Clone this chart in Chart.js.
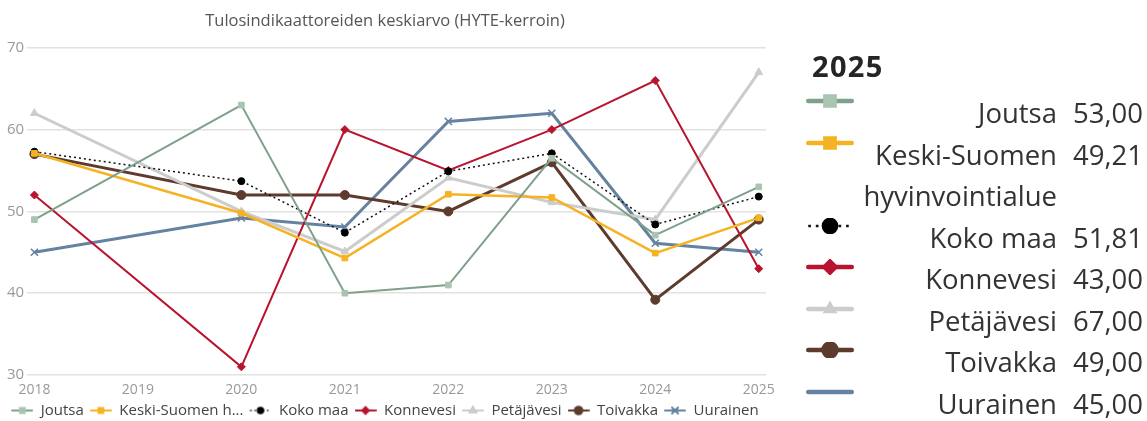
<!DOCTYPE html>
<html>
<head>
<meta charset="utf-8">
<script src="https://cdn.jsdelivr.net/npm/chart.js@4"></script>
<style>
  body { margin: 0; background: #fff; font-family: "Open Sans", sans-serif; overflow: hidden; }
  #wrap { position: absolute; left: 0; top: 0; width: 780px; height: 428px; }
  #side { position: absolute; left: 806px; top: 43px; width: 340px; color: #333; font-family: "Open Sans", sans-serif; }
  #side .hdr { font-weight: bold; font-size: 29px; letter-spacing: 1.3px; line-height: 49px; margin-left: 6px; color: #252525; position: relative; top: -2px; }
  #side .row { display: grid; grid-template-columns: 56px 195px 86px; font-size: 27.5px; line-height: 41.5px; }
  #side .lab { text-align: right; }
  #side .val { text-align: right; }
  #side canvas { display: block; margin-top: 1px; }
</style>
</head>
<body>
<div id="wrap"><canvas id="myChart"></canvas></div>
<div id="side"></div>
<script>
const years = [2018, 2019, 2020, 2021, 2022, 2023, 2024, 2025];
const names = ['Joutsa', 'Keski-Suomen hyvinvointialue', 'Koko maa', 'Konnevesi', 'Petäjävesi', 'Toivakka', 'Uurainen'];
const shortNames = ['Joutsa', 'Keski-Suomen h...', 'Koko maa', 'Konnevesi', 'Petäjävesi', 'Toivakka', 'Uurainen'];

// 2019 puuttuu kaikilta
const joutsa     = [49,   null, 63,   40,   41,   56.5, 47.1, 53];
const keskiSuomi = [57.1, null, 49.8, 44.3, 52.1, 51.7, 44.9, 49.21];
const kokoMaa    = [57.3, null, 53.7, 47.4, 54.9, 57.1, 48.4, 51.81];
const konnevesi  = [52,   null, 31,   60,   55,   60,   66,   43];
const petajavesi = [62,   null, 50,   45.1, 54.1, 51.1, 49,   67];
const toivakka   = [57,   null, 52,   52,   50,   56,   39.2, 49];
const uurainen   = [45,   null, 49.2, 48.1, 61,   62,   46.1, 45];

const yTicks = [30, 40, 50, 60, 70];

const series = [joutsa, keskiSuomi, kokoMaa, konnevesi, petajavesi, toivakka, uurainen];
const styles = [
  { line: '#7fa08a', fill: '#a9c4b1', width: 2,   dash: [],     point: 'rect',     r: 4 },
  { line: '#f5b324', fill: '#f5b324', width: 2.5, dash: [],     point: 'rect',     r: 4 },
  { line: '#111111', fill: '#000000', width: 1.5, dash: [2, 3], point: 'circle',   r: 3.5 },
  { line: '#b8142f', fill: '#b8142f', width: 2,   dash: [],     point: 'rectRot',  r: 4 },
  { line: '#cccccc', fill: '#cccccc', width: 3,   dash: [],     point: 'triangle', r: 4.5 },
  { line: '#5d3b2d', fill: '#5d3b2d', width: 3,   dash: [],     point: 'circle',   r: 4.5 },
  { line: '#6582a0', fill: '#6582a0', width: 3,   dash: [],     point: 'crossRot', r: 5 }
];
// oikean selitteen merkkien koot
const sideMarker = [6.5, 6.5, 7, 5.5, 4, 6.5, 0];

Chart.defaults.font.family = '"Open Sans", sans-serif';

// pieni näyte: viiva + merkki
function sample(st, w, h, lw, r, marker) {
  const c = document.createElement('canvas');
  c.width = w; c.height = h;
  const ctx = c.getContext('2d');
  ctx.strokeStyle = st.line;
  const dotted = st.dash.length > 0;
  ctx.lineWidth = dotted ? Math.max(1.5, lw * 0.6) : lw;
  ctx.lineCap = dotted ? 'butt' : 'round';
  ctx.setLineDash(dotted ? [ctx.lineWidth, ctx.lineWidth * 1.8] : []);
  ctx.beginPath();
  ctx.moveTo(lw / 2, h / 2);
  ctx.lineTo(w - lw / 2, h / 2);
  ctx.stroke();
  ctx.setLineDash([]);
  if (marker && r > 0) {
    ctx.fillStyle = st.fill;
    ctx.strokeStyle = st.point === 'crossRot' ? st.line : st.fill;
    Chart.helpers.drawPoint(ctx, { pointStyle: st.point, radius: r, rotation: 0, borderWidth: 1 }, w / 2, h / 2);
  }
  return c;
}

const datasets = series.map((vals, i) => {
  const st = styles[i];
  return {
    label: names[i],
    data: years.map((yr, j) => ({ x: yr, y: vals[j] })),
    borderColor: st.line,
    backgroundColor: st.fill,
    borderWidth: st.width,
    borderDash: st.dash,
    pointStyle: st.point,
    pointRadius: st.r,
    pointBackgroundColor: st.fill,
    pointBorderColor: st.point === 'crossRot' ? st.line : st.fill,
    pointBorderWidth: st.point === 'crossRot' ? 1.5 : 1,
    spanGaps: true,
    tension: 0
  };
});

let myChart = document.getElementById('myChart').getContext('2d');

let lineChart = new Chart(myChart, {
  type: 'line',
  data: { datasets: datasets },
  options: {
    responsive: true,
    maintainAspectRatio: false,
    animation: false,
    layout: { padding: { left: 4, right: 14, bottom: 0, top: 8 } },
    scales: {
      x: {
        type: 'linear',
        min: 2017.93,
        max: 2025.07,
        afterBuildTicks: ax => { ax.ticks = years.map(v => ({ value: v })); },
        grid: { display: false },
        border: { display: false },
        ticks: { color: '#999', font: { size: 14, lineHeight: 1 }, padding: 0, maxRotation: 0, callback: v => String(v) }
      },
      y: {
        min: 30,
        max: 70,
        afterBuildTicks: ax => { ax.ticks = yTicks.map(v => ({ value: v })); },
        grid: { color: '#e2e2e2', lineWidth: 1.5, drawTicks: false },
        border: { display: false },
        ticks: { color: '#999', font: { size: 15 }, padding: 3 }
      }
    },
    plugins: {
      title: {
        display: true,
        text: 'Tulosindikaattoreiden keskiarvo (HYTE-kerroin)',
        color: '#555',
        font: { size: 16.5, weight: 'normal' },
        padding: { top: 3, bottom: 17 }
      },
      tooltip: { enabled: false },
      legend: {
        position: 'bottom',
        labels: {
          usePointStyle: true,
          pointStyleWidth: 22,
          padding: 6,
          color: '#444',
          font: { size: 15, lineHeight: 1 },
          generateLabels: chart => chart.data.datasets.map((ds, i) => ({
            text: shortNames[i],
            pointStyle: sample(styles[i], 22, 12, Math.min(styles[i].width, 2), styles[i].r * 0.85, true),
            datasetIndex: i,
            hidden: false,
            lineWidth: 0,
            strokeStyle: 'transparent',
            fillStyle: 'transparent',
            fontColor: '#444'
          }))
        }
      }
    }
  }
});

// oikean reunan selite, viimeinen vuosi
const side = document.getElementById('side');
const last = years.length - 1;
side.innerHTML = '<div class="hdr">' + years[last] + '</div>';
series.forEach((vals, i) => {
  const row = document.createElement('div');
  row.className = 'row';
  const c = sample(styles[i], 48, 16, 4.5, sideMarker[i], true);
  const cell = document.createElement('div');
  cell.appendChild(c);
  const lab = document.createElement('div');
  lab.className = 'lab';
  lab.textContent = names[i];
  const val = document.createElement('div');
  val.className = 'val';
  val.textContent = vals[last].toFixed(2).replace('.', ',');
  row.appendChild(cell); row.appendChild(lab); row.appendChild(val);
  side.appendChild(row);
});
</script>
</body>
</html>
